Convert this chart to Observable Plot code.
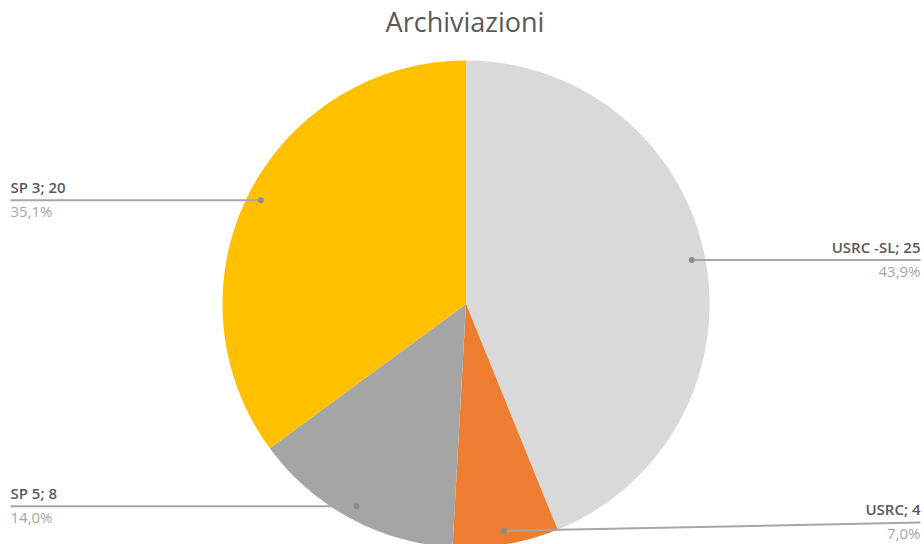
<!DOCTYPE html>
<html>
<head>
<meta charset="utf-8">
<script src="https://cdn.jsdelivr.net/npm/d3@7"></script>
<script src="https://cdn.jsdelivr.net/npm/@observablehq/plot@0.6"></script>
<style>
  body { margin: 0; background: #fff; font-family: "Open Sans", sans-serif; }
  #title { height: 44px; line-height: 44px; text-align: center; font-size: 27px; color: #595959; width: 930px; }
</style>
</head>
<body>
<div id="title">Archiviazioni</div>
<div id="chart"></div>
<script>
const categories = ["USRC -SL", "USRC", "SP 5", "SP 3"];
const values = [25, 4, 8, 20];
const colors = ["#D9D9D9", "#ED7D31", "#A5A5A5", "#FFC000"];
const labelSide = ["right", "right", "left", "left"];

const W = 924, H = 500;
const cx = 465.5, cy = 259.5, R = 243.5, rLabel = 230;

const rows = categories.map((name, i) => ({name, value: values[i], color: colors[i], side: labelSide[i]}));
const total = d3.sum(values);
const arcs = d3.pie().sort(null).value(d => d.value)(rows);

// slice outlines
const pts = [];
arcs.forEach(a => {
  const n = Math.max(2, Math.ceil((a.endAngle - a.startAngle) / 0.01));
  pts.push({name: a.data.name, x: cx, y: cy});
  for (let k = 0; k <= n; k++) {
    const t = a.startAngle + (a.endAngle - a.startAngle) * k / n;
    pts.push({name: a.data.name, x: cx + R * Math.sin(t), y: cy - R * Math.cos(t)});
  }
  pts.push({name: a.data.name, x: cx, y: cy});
});

// labels
const labels = arcs.map(a => {
  const m = (a.startAngle + a.endAngle) / 2;
  const dx = cx + rLabel * Math.sin(m), dy = cy - rLabel * Math.cos(m);
  const right = a.data.side === "right";
  let ly = dy;
  if (ly > H - 22) ly = H - 22;
  return {
    name: a.data.name,
    dx, dy,
    lx: right ? 920 : 10,
    ly,
    anchor: right ? "end" : "start",
    main: `${a.data.name}; ${a.data.value}`,
    pct: (a.data.value / total * 100).toFixed(1).replace(".", ",") + "%"
  };
});

const chart = Plot.plot({
  width: W, height: H,
  margin: 0,
  x: {domain: [0, W], range: [0, W], axis: null},
  y: {domain: [0, H], range: [0, H], axis: null},
  color: {domain: categories, range: colors},
  style: {overflow: "visible", fontFamily: "Open Sans, sans-serif"},
  marks: [
    Plot.line(pts, {x: "x", y: "y", z: "name", fill: "name", stroke: "none", curve: "linear"}),
    Plot.link(labels, {x1: "dx", y1: "dy", x2: "lx", y2: "ly", stroke: "#A6A6A6", strokeWidth: 2}),
    Plot.dot(labels, {x: "dx", y: "dy", r: 3, fill: "#8C8C8C", stroke: "none"}),
    Plot.text(labels, {x: "lx", y: "ly", text: "main", dy: -12, fontSize: 15, fill: "#595959", fontWeight: 600, lineAnchor: "middle"}),
    Plot.text(labels, {x: "lx", y: "ly", text: "pct", dy: 12, fontSize: 15, fill: "#A6A6A6", lineAnchor: "middle"})
  ]
});
// text anchors per label
chart.querySelectorAll("g[aria-label='text']").forEach(g => {
  g.querySelectorAll("text").forEach((t, i) => t.setAttribute("text-anchor", labels[i].anchor));
});
document.getElementById("chart").appendChild(chart);
</script>
</body>
</html>
